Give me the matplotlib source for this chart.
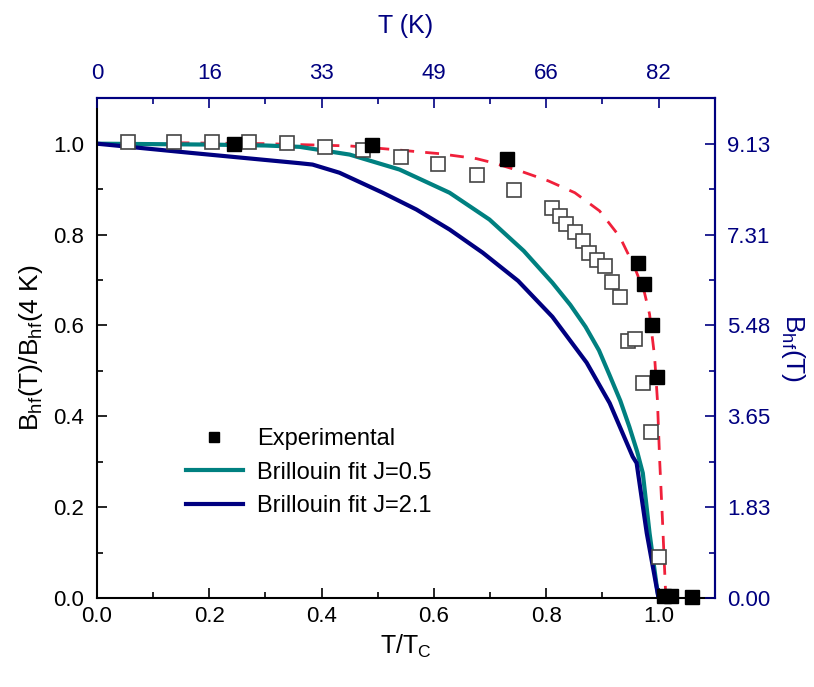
import matplotlib.pyplot as plt
from matplotlib.ticker import MultipleLocator

plt.rcParams['font.family'] = ['Liberation Sans', 'DejaVu Sans']

# experimental (filled squares)
exp_x = [0.245, 0.489, 0.731, 0.963, 0.975, 0.988, 0.998, 1.010, 1.022, 1.060]
exp_y = [1.000, 0.996, 0.967, 0.737, 0.692, 0.601, 0.486, 0.005, 0.005, 0.003]

# second data set (open squares)
open_x = [0.055, 0.137, 0.205, 0.270, 0.338, 0.406, 0.473, 0.541, 0.608, 0.676,
          0.742, 0.811, 0.824, 0.836, 0.851, 0.865, 0.877, 0.891, 0.904, 0.918,
          0.932, 0.945, 0.959, 0.972, 0.986, 1.000]
open_y = [1.004, 1.004, 1.004, 1.004, 1.002, 0.993, 0.985, 0.971, 0.956, 0.930,
          0.899, 0.859, 0.841, 0.824, 0.806, 0.786, 0.760, 0.744, 0.731, 0.696,
          0.663, 0.566, 0.570, 0.474, 0.366, 0.090]

# dashed guide
dash_x = [0.14, 0.30, 0.45, 0.51, 0.61, 0.676, 0.705, 0.758, 0.804, 0.851, 0.895,
          0.907, 0.931, 0.957, 0.975, 0.984, 0.993, 0.998, 1.002, 1.007, 1.013]
dash_y = [1.002, 1.000, 0.995, 0.989, 0.978, 0.967, 0.958, 0.938, 0.918, 0.892, 0.852,
          0.833, 0.795, 0.729, 0.672, 0.625, 0.531, 0.436, 0.304, 0.172, 0.0]

# Brillouin J=0.5
j05_x = [0.0, 0.10, 0.20, 0.30, 0.361, 0.450, 0.539, 0.628, 0.699, 0.760, 0.811,
         0.843, 0.870, 0.894, 0.913, 0.932, 0.948, 0.962, 0.972, 0.984, 0.996, 1.0]
j05_y = [1.0, 0.999, 0.998, 0.996, 0.993, 0.976, 0.943, 0.892, 0.833, 0.764, 0.694,
         0.645, 0.597, 0.545, 0.490, 0.434, 0.377, 0.322, 0.275, 0.143, 0.033, 0.0]

# Brillouin J=2.1
j21_x = [0.0, 0.165, 0.361, 0.384, 0.432, 0.509, 0.569, 0.628, 0.687, 0.750,
         0.811, 0.872, 0.913, 0.954, 0.961, 0.979, 1.0]
j21_y = [1.0, 0.980, 0.957, 0.954, 0.936, 0.892, 0.855, 0.811, 0.760, 0.698,
         0.619, 0.518, 0.429, 0.311, 0.297, 0.143, 0.0]

top_ticks = [0.0, 0.2, 0.4, 0.6, 0.8, 1.0]
top_labels = ['0', '16', '33', '49', '66', '82']
right_labels = ['0.00', '1.83', '3.65', '5.48', '7.31', '9.13']

navy = '#000080'
teal = '#008080'

fig = plt.figure(figsize=(8.14, 6.87), dpi=100)
ax = fig.add_axes([0.119, 0.1296, 0.759, 0.7274])

ax.plot(dash_x, dash_y, '--', color='#f0203a', lw=2, dashes=(5, 4))
ax.plot(j05_x, j05_y, color=teal, lw=3, label='Brillouin fit J=0.5')
ax.plot(j21_x, j21_y, color=navy, lw=3, label='Brillouin fit J=2.1')
ax.plot(open_x, open_y, 's', mfc='white', mec='#444444', mew=1.2, ms=10, ls='none')
ax.plot(exp_x, exp_y, 's', color='black', ms=10, ls='none', label='Experimental', clip_on=False)

ax.set_xlim(0, 1.1)
ax.set_ylim(0, 1.1)
ax.xaxis.set_major_locator(MultipleLocator(0.2))
ax.xaxis.set_minor_locator(MultipleLocator(0.1))
ax.yaxis.set_major_locator(MultipleLocator(0.2))
ax.yaxis.set_minor_locator(MultipleLocator(0.1))
ax.tick_params(which='both', direction='in', labelsize=16)
ax.tick_params(which='major', length=7, width=1.2)
ax.tick_params(which='minor', length=4, width=1.2)
ax.tick_params(axis='y', pad=9)
ax.tick_params(axis='x', pad=6)
ax.set_xlabel('T/T$_\\mathregular{C}$', fontsize=18, labelpad=4)
ax.set_ylabel('B$_\\mathregular{hf}$(T)/B$_\\mathregular{hf}$(4 K)', fontsize=19, labelpad=6)
for s in ['left', 'bottom']:
    ax.spines[s].set_linewidth(1.5)
ax.spines['top'].set_visible(False)
ax.spines['right'].set_visible(False)

h, l = ax.get_legend_handles_labels()
order = [2, 0, 1]
ax.legend([h[i] for i in order], [l[i] for i in order], loc='upper left',
          bbox_to_anchor=(0.11, 0.383), frameon=False, fontsize=17,
          handlelength=2.4, handletextpad=0.6, markerscale=0.7, labelspacing=0.5)

# top axis
axt = ax.twiny()
axt.set_xlim(ax.get_xlim())
axt.set_xticks(top_ticks)
axt.set_xticklabels(top_labels)
axt.xaxis.set_minor_locator(MultipleLocator(0.1))
axt.tick_params(which='both', direction='in', labelsize=16, colors=navy)
axt.tick_params(which='major', length=7, width=1.2, pad=10)
axt.tick_params(which='minor', length=4, width=1.2)
axt.set_xlabel('T (K)', fontsize=18, color=navy, labelpad=22)

# right axis
axr = ax.twinx()
axr.set_ylim(ax.get_ylim())
axr.set_yticks(top_ticks)
axr.set_yticklabels(right_labels)
axr.yaxis.set_minor_locator(MultipleLocator(0.1))
axr.tick_params(which='both', direction='in', labelsize=16, colors=navy)
axr.tick_params(which='major', length=7, width=1.2, pad=9)
axr.tick_params(which='minor', length=4, width=1.2)
axr.set_ylabel('B$_\\mathregular{hf}$(T)', fontsize=19, color=navy, rotation=-90, labelpad=26)

for a in (axt, axr):
    for s in ['top', 'right']:
        a.spines[s].set_color(navy)
        a.spines[s].set_linewidth(1.5)
    a.spines['left'].set_visible(False)
    a.spines['bottom'].set_visible(False)

fig.savefig('out.png', dpi=100)
